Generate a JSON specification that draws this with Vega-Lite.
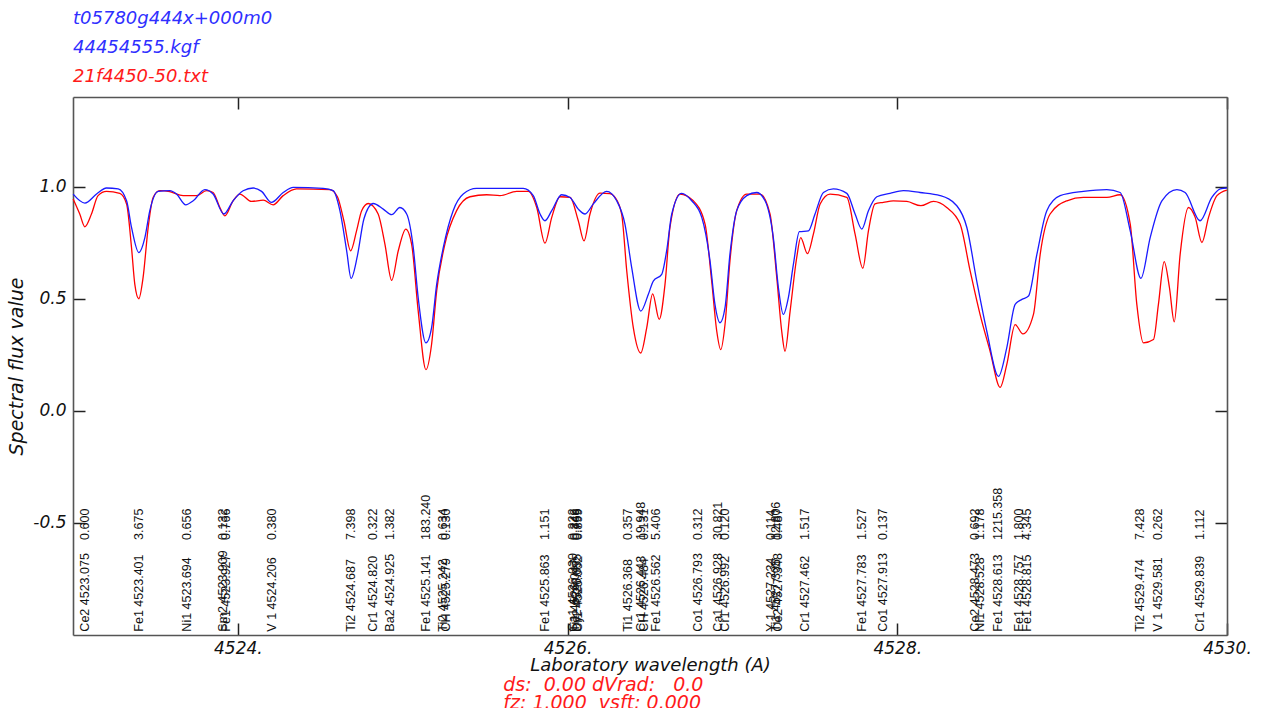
{
  "$schema": "https://vega.github.io/schema/vega-lite/v6.json",
  "width": 1154,
  "height": 538,
  "autosize": {"type": "none"},
  "padding": {"left": 73, "top": 97, "right": 34, "bottom": 73},
  "background": "white",
  "config": {"view": {"stroke": null}, "font": "DejaVu Sans"},
  "title": {
    "text": ["t05780g444x+000m0", "44454555.kgf"],
    "subtitle": "21f4450-50.txt",
    "anchor": "start",
    "frame": "group",
    "font": "DejaVu Sans",
    "fontSize": 18,
    "fontStyle": "italic",
    "fontWeight": "normal",
    "color": "#2f2fff",
    "lineHeight": 29,
    "subtitleFont": "DejaVu Sans",
    "subtitleFontSize": 18,
    "subtitleFontStyle": "italic",
    "subtitleColor": "#ff1a1a",
    "subtitleLineHeight": 29,
    "subtitlePadding": 11,
    "offset": 10
  },
  "datasets": {
    "observed": [
      {"w": 4523.001, "f": 0.945}, {"w": 4523.041, "f": 0.878}, {"w": 4523.072, "f": 0.821}, {"w": 4523.112, "f": 0.878},
      {"w": 4523.152, "f": 0.960}, {"w": 4523.203, "f": 0.979}, {"w": 4523.284, "f": 0.970}, {"w": 4523.325, "f": 0.923},
      {"w": 4523.355, "f": 0.728}, {"w": 4523.375, "f": 0.564}, {"w": 4523.399, "f": 0.500}, {"w": 4523.425, "f": 0.594},
      {"w": 4523.456, "f": 0.818}, {"w": 4523.486, "f": 0.952}, {"w": 4523.527, "f": 0.982}, {"w": 4523.587, "f": 0.978},
      {"w": 4523.668, "f": 0.960}, {"w": 4523.749, "f": 0.960}, {"w": 4523.810, "f": 0.982}, {"w": 4523.850, "f": 0.974},
      {"w": 4523.891, "f": 0.907}, {"w": 4523.921, "f": 0.870}, {"w": 4523.971, "f": 0.937}, {"w": 4524.012, "f": 0.967},
      {"w": 4524.083, "f": 0.934}, {"w": 4524.154, "f": 0.940}, {"w": 4524.214, "f": 0.919}, {"w": 4524.275, "f": 0.960},
      {"w": 4524.356, "f": 0.990}, {"w": 4524.558, "f": 0.987}, {"w": 4524.604, "f": 0.955}, {"w": 4524.643, "f": 0.848},
      {"w": 4524.684, "f": 0.714}, {"w": 4524.720, "f": 0.803}, {"w": 4524.751, "f": 0.893}, {"w": 4524.791, "f": 0.925},
      {"w": 4524.851, "f": 0.878}, {"w": 4524.892, "f": 0.744}, {"w": 4524.933, "f": 0.582}, {"w": 4524.973, "f": 0.714},
      {"w": 4525.019, "f": 0.811}, {"w": 4525.054, "f": 0.744}, {"w": 4525.094, "f": 0.445}, {"w": 4525.141, "f": 0.184},
      {"w": 4525.175, "f": 0.296}, {"w": 4525.206, "f": 0.535}, {"w": 4525.256, "f": 0.744}, {"w": 4525.327, "f": 0.893},
      {"w": 4525.408, "f": 0.955}, {"w": 4525.509, "f": 0.964}, {"w": 4525.590, "f": 0.960}, {"w": 4525.691, "f": 0.979},
      {"w": 4525.762, "f": 0.979}, {"w": 4525.813, "f": 0.907}, {"w": 4525.863, "f": 0.748}, {"w": 4525.904, "f": 0.863},
      {"w": 4525.954, "f": 0.955}, {"w": 4526.015, "f": 0.952}, {"w": 4526.065, "f": 0.848}, {"w": 4526.100, "f": 0.758},
      {"w": 4526.136, "f": 0.878}, {"w": 4526.197, "f": 0.971}, {"w": 4526.257, "f": 0.969}, {"w": 4526.288, "f": 0.952},
      {"w": 4526.328, "f": 0.878}, {"w": 4526.359, "f": 0.624}, {"w": 4526.399, "f": 0.370}, {"w": 4526.444, "f": 0.258},
      {"w": 4526.480, "f": 0.370}, {"w": 4526.516, "f": 0.522}, {"w": 4526.556, "f": 0.408}, {"w": 4526.591, "f": 0.564},
      {"w": 4526.621, "f": 0.818}, {"w": 4526.682, "f": 0.967}, {"w": 4526.763, "f": 0.937}, {"w": 4526.834, "f": 0.833},
      {"w": 4526.874, "f": 0.579}, {"w": 4526.905, "f": 0.355}, {"w": 4526.929, "f": 0.273}, {"w": 4526.955, "f": 0.385},
      {"w": 4526.985, "f": 0.669}, {"w": 4527.026, "f": 0.893}, {"w": 4527.087, "f": 0.967}, {"w": 4527.168, "f": 0.967},
      {"w": 4527.228, "f": 0.878}, {"w": 4527.269, "f": 0.594}, {"w": 4527.299, "f": 0.355}, {"w": 4527.319, "f": 0.266},
      {"w": 4527.350, "f": 0.445}, {"w": 4527.390, "f": 0.684}, {"w": 4527.414, "f": 0.773}, {"w": 4527.455, "f": 0.701},
      {"w": 4527.491, "f": 0.788}, {"w": 4527.532, "f": 0.923}, {"w": 4527.592, "f": 0.967}, {"w": 4527.694, "f": 0.952},
      {"w": 4527.744, "f": 0.788}, {"w": 4527.791, "f": 0.636}, {"w": 4527.825, "f": 0.803}, {"w": 4527.865, "f": 0.923},
      {"w": 4527.916, "f": 0.930}, {"w": 4527.976, "f": 0.937}, {"w": 4528.058, "f": 0.934}, {"w": 4528.143, "f": 0.915},
      {"w": 4528.219, "f": 0.934}, {"w": 4528.300, "f": 0.907}, {"w": 4528.381, "f": 0.833}, {"w": 4528.442, "f": 0.624},
      {"w": 4528.502, "f": 0.430}, {"w": 4528.563, "f": 0.266}, {"w": 4528.624, "f": 0.105}, {"w": 4528.664, "f": 0.206},
      {"w": 4528.715, "f": 0.385}, {"w": 4528.762, "f": 0.343}, {"w": 4528.826, "f": 0.430}, {"w": 4528.867, "f": 0.699},
      {"w": 4528.927, "f": 0.878}, {"w": 4529.029, "f": 0.937}, {"w": 4529.129, "f": 0.952}, {"w": 4529.271, "f": 0.952},
      {"w": 4529.352, "f": 0.964}, {"w": 4529.413, "f": 0.833}, {"w": 4529.453, "f": 0.475}, {"w": 4529.493, "f": 0.303},
      {"w": 4529.554, "f": 0.318}, {"w": 4529.584, "f": 0.475}, {"w": 4529.619, "f": 0.666}, {"w": 4529.651, "f": 0.549},
      {"w": 4529.680, "f": 0.397}, {"w": 4529.716, "f": 0.699}, {"w": 4529.766, "f": 0.907}, {"w": 4529.807, "f": 0.863},
      {"w": 4529.848, "f": 0.751}, {"w": 4529.888, "f": 0.863}, {"w": 4529.939, "f": 0.960}, {"w": 4529.999, "f": 0.985}
    ],
    "synthetic": [
      {"w": 4523.001, "f": 0.967}, {"w": 4523.072, "f": 0.927}, {"w": 4523.143, "f": 0.967}, {"w": 4523.203, "f": 0.994},
      {"w": 4523.274, "f": 0.990}, {"w": 4523.325, "f": 0.937}, {"w": 4523.355, "f": 0.818}, {"w": 4523.399, "f": 0.706},
      {"w": 4523.436, "f": 0.773}, {"w": 4523.466, "f": 0.893}, {"w": 4523.516, "f": 0.979}, {"w": 4523.587, "f": 0.982},
      {"w": 4523.628, "f": 0.967}, {"w": 4523.684, "f": 0.919}, {"w": 4523.729, "f": 0.937}, {"w": 4523.800, "f": 0.987},
      {"w": 4523.850, "f": 0.967}, {"w": 4523.915, "f": 0.878}, {"w": 4523.971, "f": 0.937}, {"w": 4524.032, "f": 0.982},
      {"w": 4524.093, "f": 0.994}, {"w": 4524.144, "f": 0.979}, {"w": 4524.204, "f": 0.930}, {"w": 4524.275, "f": 0.974},
      {"w": 4524.336, "f": 0.997}, {"w": 4524.518, "f": 0.992}, {"w": 4524.578, "f": 0.982}, {"w": 4524.619, "f": 0.893},
      {"w": 4524.660, "f": 0.714}, {"w": 4524.687, "f": 0.591}, {"w": 4524.725, "f": 0.691}, {"w": 4524.765, "f": 0.857},
      {"w": 4524.821, "f": 0.925}, {"w": 4524.882, "f": 0.900}, {"w": 4524.933, "f": 0.875}, {"w": 4524.983, "f": 0.907},
      {"w": 4525.024, "f": 0.878}, {"w": 4525.064, "f": 0.728}, {"w": 4525.094, "f": 0.504}, {"w": 4525.141, "f": 0.303},
      {"w": 4525.175, "f": 0.370}, {"w": 4525.206, "f": 0.564}, {"w": 4525.246, "f": 0.728}, {"w": 4525.306, "f": 0.893},
      {"w": 4525.367, "f": 0.967}, {"w": 4525.448, "f": 0.992}, {"w": 4525.731, "f": 0.992}, {"w": 4525.792, "f": 0.960},
      {"w": 4525.833, "f": 0.878}, {"w": 4525.863, "f": 0.848}, {"w": 4525.904, "f": 0.893}, {"w": 4525.964, "f": 0.964},
      {"w": 4526.015, "f": 0.952}, {"w": 4526.065, "f": 0.900}, {"w": 4526.106, "f": 0.878}, {"w": 4526.156, "f": 0.923},
      {"w": 4526.237, "f": 0.979}, {"w": 4526.298, "f": 0.937}, {"w": 4526.348, "f": 0.833}, {"w": 4526.389, "f": 0.639},
      {"w": 4526.444, "f": 0.445}, {"w": 4526.490, "f": 0.520}, {"w": 4526.520, "f": 0.579}, {"w": 4526.571, "f": 0.609},
      {"w": 4526.601, "f": 0.714}, {"w": 4526.632, "f": 0.878}, {"w": 4526.692, "f": 0.970}, {"w": 4526.753, "f": 0.937},
      {"w": 4526.814, "f": 0.863}, {"w": 4526.864, "f": 0.669}, {"w": 4526.894, "f": 0.475}, {"w": 4526.925, "f": 0.393},
      {"w": 4526.955, "f": 0.460}, {"w": 4526.985, "f": 0.699}, {"w": 4527.026, "f": 0.893}, {"w": 4527.087, "f": 0.960},
      {"w": 4527.147, "f": 0.974}, {"w": 4527.198, "f": 0.937}, {"w": 4527.248, "f": 0.773}, {"w": 4527.279, "f": 0.549},
      {"w": 4527.309, "f": 0.430}, {"w": 4527.339, "f": 0.504}, {"w": 4527.370, "f": 0.654}, {"w": 4527.406, "f": 0.799},
      {"w": 4527.461, "f": 0.803}, {"w": 4527.501, "f": 0.878}, {"w": 4527.552, "f": 0.974}, {"w": 4527.612, "f": 0.990},
      {"w": 4527.694, "f": 0.970}, {"w": 4527.744, "f": 0.878}, {"w": 4527.785, "f": 0.811}, {"w": 4527.825, "f": 0.893},
      {"w": 4527.876, "f": 0.955}, {"w": 4527.956, "f": 0.970}, {"w": 4528.037, "f": 0.982}, {"w": 4528.138, "f": 0.974},
      {"w": 4528.260, "f": 0.960}, {"w": 4528.361, "f": 0.915}, {"w": 4528.422, "f": 0.818}, {"w": 4528.482, "f": 0.579},
      {"w": 4528.543, "f": 0.355}, {"w": 4528.614, "f": 0.154}, {"w": 4528.664, "f": 0.281}, {"w": 4528.715, "f": 0.475},
      {"w": 4528.756, "f": 0.497}, {"w": 4528.796, "f": 0.512}, {"w": 4528.847, "f": 0.699}, {"w": 4528.907, "f": 0.893},
      {"w": 4528.988, "f": 0.960}, {"w": 4529.129, "f": 0.979}, {"w": 4529.271, "f": 0.987}, {"w": 4529.352, "f": 0.974},
      {"w": 4529.413, "f": 0.803}, {"w": 4529.478, "f": 0.591}, {"w": 4529.534, "f": 0.773}, {"w": 4529.605, "f": 0.937},
      {"w": 4529.696, "f": 0.987}, {"w": 4529.746, "f": 0.974}, {"w": 4529.837, "f": 0.848}, {"w": 4529.908, "f": 0.952},
      {"w": 4529.959, "f": 0.990}, {"w": 4529.999, "f": 0.994}
    ],
    "lines": [
      {"id": "Ce2 4523.075", "w": 4523.075, "v": "0.600"},
      {"id": "Fe1 4523.401", "w": 4523.401, "v": "3.675"},
      {"id": "Ni1 4523.694", "w": 4523.694, "v": "0.656"},
      {"id": "Sm2 4523.909", "w": 4523.909, "v": "0.132"},
      {"id": "Fe1 4523.927", "w": 4523.927, "v": "0.766"},
      {"id": "V 1 4524.206", "w": 4524.206, "v": "0.380"},
      {"id": "Ti2 4524.687", "w": 4524.687, "v": "7.398"},
      {"id": "Cr1 4524.820", "w": 4524.820, "v": "0.322"},
      {"id": "Ba2 4524.925", "w": 4524.925, "v": "1.382"},
      {"id": "Fe1 4525.141", "w": 4525.141, "v": "183.240"},
      {"id": "Ti2 4525.242", "w": 4525.242, "v": "0.634"},
      {"id": "CH  4525.279", "w": 4525.265, "v": "0.130"},
      {"id": "Fe1 4525.863", "w": 4525.863, "v": "1.151"},
      {"id": "Ca1 4526.030", "w": 4526.030, "v": "0.222"},
      {"id": "Ti1 4526.047", "w": 4526.047, "v": "0.349"},
      {"id": "Dy2 4526.055", "w": 4526.055, "v": "0.766"},
      {"id": "Cr1 4526.062", "w": 4526.062, "v": "0.899"},
      {"id": "Ti1 4526.368", "w": 4526.368, "v": "0.357"},
      {"id": "Cr1 4526.443", "w": 4526.443, "v": "19.948"},
      {"id": "CH  4526.484", "w": 4526.462, "v": "0.131"},
      {"id": "Fe1 4526.562", "w": 4526.535, "v": "5.406"},
      {"id": "Co1 4526.793", "w": 4526.793, "v": "0.312"},
      {"id": "Ca1 4526.928", "w": 4526.915, "v": "30.821"},
      {"id": "Cr1 4526.992", "w": 4526.955, "v": "0.120"},
      {"id": "Y 1 4527.234", "w": 4527.234, "v": "0.114"},
      {"id": "Ti1 4527.305", "w": 4527.262, "v": "12.806"},
      {"id": "Ce2 4527.348", "w": 4527.275, "v": "0.487"},
      {"id": "Cr1 4527.462", "w": 4527.442, "v": "1.517"},
      {"id": "Fe1 4527.783", "w": 4527.783, "v": "1.527"},
      {"id": "Co1 4527.913", "w": 4527.913, "v": "0.137"},
      {"id": "Ce2 4528.473", "w": 4528.473, "v": "0.692"},
      {"id": "Ni1 4528.528", "w": 4528.500, "v": "1.178"},
      {"id": "Fe1 4528.613", "w": 4528.613, "v": "1215.358"},
      {"id": "Fe1 4528.757", "w": 4528.740, "v": "1.800"},
      {"id": "Fe1 4528.815", "w": 4528.785, "v": "4.345"},
      {"id": "Ti2 4529.474", "w": 4529.474, "v": "7.428"},
      {"id": "V 1 4529.581", "w": 4529.581, "v": "0.262"},
      {"id": "Cr1 4529.839", "w": 4529.839, "v": "1.112"}
    ]
  },
  "layer": [
    {
      "data": {"name": "observed"},
      "mark": {"type": "line", "color": "#ff0000", "strokeWidth": 1.3, "interpolate": "monotone"},
      "encoding": {
        "x": {
          "field": "w", "type": "quantitative",
          "scale": {"domain": [4523, 4530], "nice": false, "zero": false},
          "axis": {
            "orient": "bottom", "values": [4524, 4526, 4528, 4530], "labelExpr": "datum.value + '.'",
            "tickSize": -12, "tickWidth": 1.5, "tickColor": "#222", "domainColor": "#555", "domainWidth": 1.6,
            "grid": false, "labelFlush": false, "labelOverlap": false, "labelPadding": 17,
            "labelFont": "DejaVu Sans", "labelFontStyle": "italic", "labelFontSize": 17, "labelColor": "#111",
            "title": "Laboratory wavelength (A)", "titleFont": "DejaVu Sans", "titleFontStyle": "italic",
            "titleFontWeight": "normal", "titleFontSize": 18, "titleColor": "#111", "titlePadding": 0
          }
        },
        "y": {
          "field": "f", "type": "quantitative",
          "scale": {"domain": [-1, 1.4], "nice": false, "zero": false},
          "axis": {
            "orient": "left", "values": [-0.5, 0, 0.5, 1],
            "labelExpr": "datum.value < 0 ? '-' + format(-datum.value, '.1f') : format(datum.value, '.1f')",
            "tickSize": -12, "tickWidth": 1.5, "tickColor": "#222", "domainColor": "#555", "domainWidth": 1.6,
            "grid": false, "labelPadding": 19, "labelFlush": false,
            "labelFont": "DejaVu Sans", "labelFontStyle": "italic", "labelFontSize": 17, "labelColor": "#111",
            "title": "Spectral flux value", "titleFont": "DejaVu Sans", "titleFontStyle": "italic",
            "titleFontWeight": "normal", "titleFontSize": 19, "titleColor": "#111", "titlePadding": 6
          }
        }
      }
    },
    {
      "data": {"name": "synthetic"},
      "mark": {"type": "line", "color": "#1a1aff", "strokeWidth": 1.3, "interpolate": "monotone"},
      "encoding": {
        "x": {
          "field": "w", "type": "quantitative",
          "axis": {
            "orient": "top", "values": [4524, 4526, 4528, 4530], "labels": false, "title": null,
            "tickSize": -12, "tickWidth": 1.5, "tickColor": "#222", "domainColor": "#555", "domainWidth": 1.6, "grid": false
          }
        },
        "y": {
          "field": "f", "type": "quantitative",
          "axis": {
            "orient": "right", "values": [-0.5, 0, 0.5, 1], "labels": false, "title": null,
            "tickSize": -12, "tickWidth": 1.5, "tickColor": "#222", "domainColor": "#555", "domainWidth": 1.6, "grid": false
          }
        }
      }
    },
    {
      "data": {"name": "lines"},
      "mark": {"type": "text", "angle": 270, "align": "left", "baseline": "middle", "font": "Liberation Sans", "fontSize": 12.5, "color": "#111"},
      "encoding": {
        "x": {"field": "w", "type": "quantitative", "axis": null},
        "y": {"datum": -0.985, "type": "quantitative", "axis": null},
        "text": {"field": "id"}
      }
    },
    {
      "data": {"name": "lines"},
      "mark": {"type": "text", "angle": 270, "align": "left", "baseline": "middle", "font": "Liberation Sans", "fontSize": 12.5, "color": "#111"},
      "encoding": {
        "x": {"field": "w", "type": "quantitative", "axis": null},
        "y": {"datum": -0.576, "type": "quantitative", "axis": null},
        "text": {"field": "v"}
      }
    },
    {
      "data": {"values": [{"t": "ds:\u00a0 0.00 dVrad:\u00a0\u00a0 0.0"}]},
      "mark": {"type": "text", "align": "left", "baseline": "middle", "font": "DejaVu Sans", "fontStyle": "italic", "fontSize": 19, "color": "#ff1a1a"},
      "encoding": {
        "x": {"datum": 4525.61, "type": "quantitative", "axis": null},
        "y": {"datum": -1.225, "type": "quantitative", "axis": null},
        "text": {"field": "t"}
      }
    },
    {
      "data": {"values": [{"t": "fz: 1.000\u00a0 vsft: 0.000"}]},
      "mark": {"type": "text", "align": "left", "baseline": "middle", "font": "DejaVu Sans", "fontStyle": "italic", "fontSize": 19, "color": "#ff1a1a"},
      "encoding": {
        "x": {"datum": 4525.61, "type": "quantitative", "axis": null},
        "y": {"datum": -1.302, "type": "quantitative", "axis": null},
        "text": {"field": "t"}
      }
    }
  ],
  "resolve": {"axis": {"x": "independent", "y": "independent"}}
}
